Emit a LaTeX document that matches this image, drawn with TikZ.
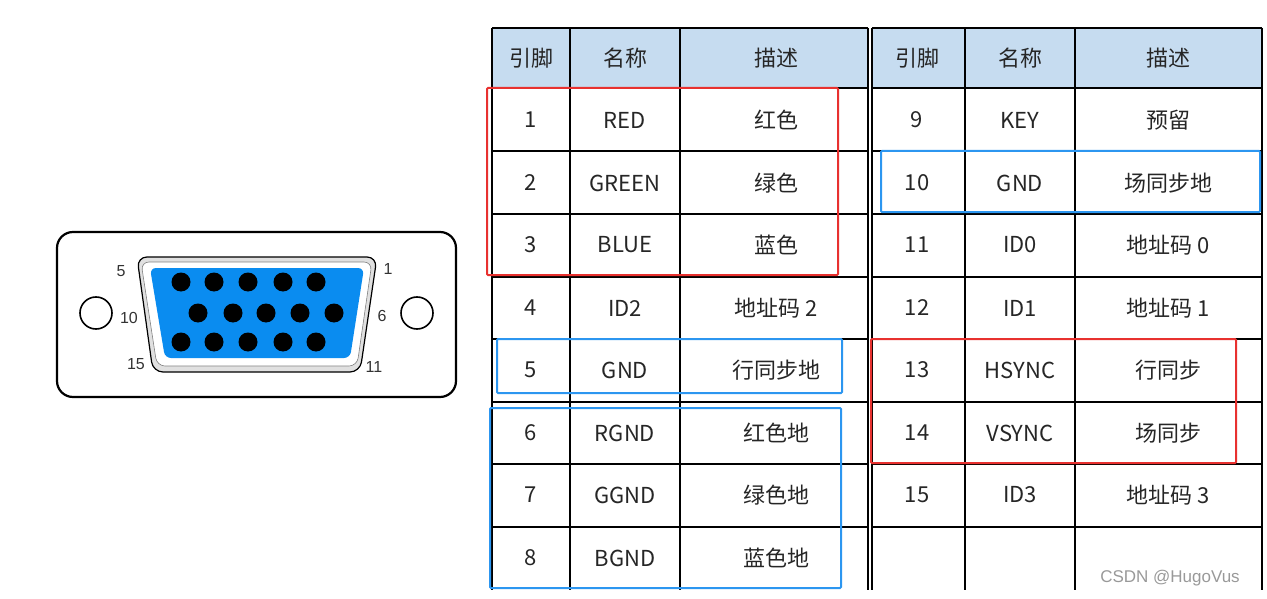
\documentclass[tikz,border=0pt]{standalone}
\usepackage{fontspec}
\setmainfont{Liberation Sans}
\newfontfamily\cjk{Noto Sans CJK SC}
\begin{document}
\begin{tikzpicture}[x=1pt,y=-1pt,
  cell/.style={font=\cjk\fontsize{22}{24}\selectfont,inner sep=0pt,text=black!85},
  pinlbl/.style={font=\fontsize{16}{18}\selectfont,text=black!80,inner sep=0pt},
  pin/.style={fill=black,draw=none},
  hl/.style={line width=2pt,rounded corners=1pt}]
\useasboundingbox (0,0) rectangle (1267,599);
\definecolor{hdr}{HTML}{C6DCF0}
\definecolor{vgablue}{HTML}{0A8CF0}
\definecolor{myred}{HTML}{E8312F}
\definecolor{myblue}{HTML}{2C96F0}
% connector
\draw[line width=2.2pt,rounded corners=16pt] (57,232) rectangle (456,397);
\draw[line width=1.2pt,fill=black!12,rounded corners=10pt] (137,257) -- (377,257) -- (360,372) -- (153,372) -- cycle;
\draw[line width=0.6pt,black!50,fill=white,rounded corners=8pt] (141,262) -- (372,262) -- (357,366) -- (157,366) -- cycle;
\fill[vgablue,rounded corners=6pt] (150,268) -- (364,268) -- (350,358) -- (165,358) -- cycle;
\foreach \x in {181,214,248,283,316} {\fill[pin] (\x,282) circle (9.5); \fill[pin] (\x,342) circle (9.5);}
\foreach \x in {198,233,266,300,334} {\fill[pin] (\x,313) circle (9.5);}
\draw[line width=1.6pt] (96,313) circle (16);
\draw[line width=1.6pt] (417,313) circle (16);
\node[pinlbl] (l5) at (121,271) {5};
\node[pinlbl] (l1) at (388,269) {1};
\node[pinlbl] (l10) at (129,318) {10};
\node[pinlbl] (l6) at (382,316) {6};
\node[pinlbl] (l15) at (136,364) {15};
\node[pinlbl] (l11) at (374,367) {11};
% table
\fill[hdr] (492,28) rectangle (868,88);
\fill[hdr] (872,28) rectangle (1262,88);
\foreach \y in {28,88,151,214,277,339,402,464,527} {\draw[line width=1.1pt] (492,\y) -- (868,\y); \draw[line width=1.1pt] (872,\y) -- (1262,\y);}
\foreach \x in {492,570,680,872,965,1075,1262} {\draw[line width=1.1pt] (\x,28) -- (\x,590);}
\draw[line width=1.6pt] (868,28) -- (868,590);
% headers
\node[cell] (h1) at (531,58) {引脚};
\node[cell] (h2) at (625,58) {名称};
\node[cell] (h3) at (776,58) {描述};
\node[cell] (h4) at (917,58) {引脚};
\node[cell] (h5) at (1020,58) {名称};
\node[cell] (h6) at (1168,58) {描述};
% rows
\foreach \n/\nm/\d/\y in {1/RED/红色/120,2/GREEN/绿色/183,3/BLUE/蓝色/245,4/ID2/地址码 2/308,5/GND/行同步地/370,6/RGND/红色地/433,7/GGND/绿色地/495,8/BGND/蓝色地/558} {
  \node[cell] at (531,\y) {\n};
  \node[cell] at (625,\y) {\nm};
  \node[cell] at (776,\y) {\d};
}
\foreach \n/\nm/\d/\y in {9/KEY/预留/120,10/GND/场同步地/183,11/ID0/地址码 0/245,12/ID1/地址码 1/308,13/HSYNC/行同步/370,14/VSYNC/场同步/433,15/ID3/地址码 3/495} {
  \node[cell] at (917,\y) {\n};
  \node[cell] at (1020,\y) {\nm};
  \node[cell] at (1168,\y) {\d};
}
% highlights
\draw[hl,myred] (487,88) rectangle (838,275);
\draw[hl,myred] (871,339) rectangle (1236,463);
\draw[hl,myblue] (881,151) rectangle (1260,212);
\draw[hl,myblue] (497,339) rectangle (842,393);
\draw[hl,myblue] (490,408) rectangle (841,588);
\node[font=\fontsize{17}{19}\selectfont,text=black!40,inner sep=0pt] (wm) at (1170,578) {CSDN @HugoVus};
\end{tikzpicture}
\end{document}
